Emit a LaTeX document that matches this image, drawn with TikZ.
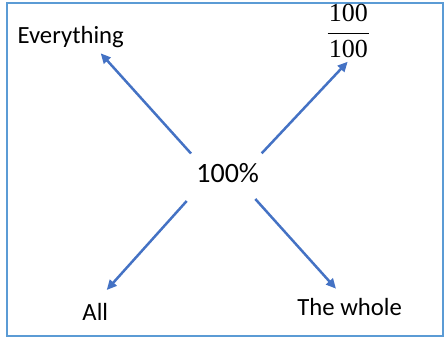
\documentclass[tikz,border=0pt]{standalone}
\usepackage{fontspec}
\setmainfont{Carlito}
\newfontfamily\fracfont{Liberation Serif}
\usetikzlibrary{arrows.meta}
\definecolor{arrowblue}{HTML}{4472C4}
\definecolor{frameblue}{HTML}{5B9BD5}
\begin{document}
\begin{tikzpicture}[x=1bp,y=-1bp,
  lbl/.style={inner sep=0pt,anchor=base,font=\fontsize{24.7bp}{30bp}\selectfont},
  big/.style={inner sep=0pt,anchor=base,font=\fontsize{28bp}{34bp}\selectfont},
  fr/.style={inner sep=0pt,anchor=base,font=\fracfont\fontsize{26bp}{30bp}\selectfont},
  arr/.style={draw=arrowblue,line width=2.5bp,-{Triangle[length=10bp,width=9bp]}}]
\useasboundingbox (0,0) rectangle (445,338);
\draw[frameblue,line width=2bp] (6.5,2.5) rectangle (443,335.5);
\node[big] (c) at (227.7,182.7) {100\%};
\node[lbl] (ev) at (70.7,43.3) {Everything};
\node[lbl] (all) at (95.3,320.7) {All};
\node[lbl] (wh) at (349.7,315) {The whole};
\node[fr] (num) at (348.3,21.7) {100};
\node[fr] (den) at (348.3,57.3) {100};
\coordinate (barl) at (327.7,33.3);
\coordinate (barr) at (369,33.3);
\draw[line width=1.3bp] (barl) -- (barr);
\coordinate (s1) at (191,153.5);
\coordinate (e1) at (100.7,53.3);
\coordinate (s2) at (261.7,153.3);
\coordinate (e2) at (347.7,61.7);
\coordinate (s3) at (186.7,201);
\coordinate (e3) at (106.7,290);
\coordinate (s4) at (255.3,199);
\coordinate (e4) at (336,288.7);
\draw[arr] (s1) -- (e1);
\draw[arr] (s2) -- (e2);
\draw[arr] (s3) -- (e3);
\draw[arr] (s4) -- (e4);
\end{tikzpicture}
\end{document}
